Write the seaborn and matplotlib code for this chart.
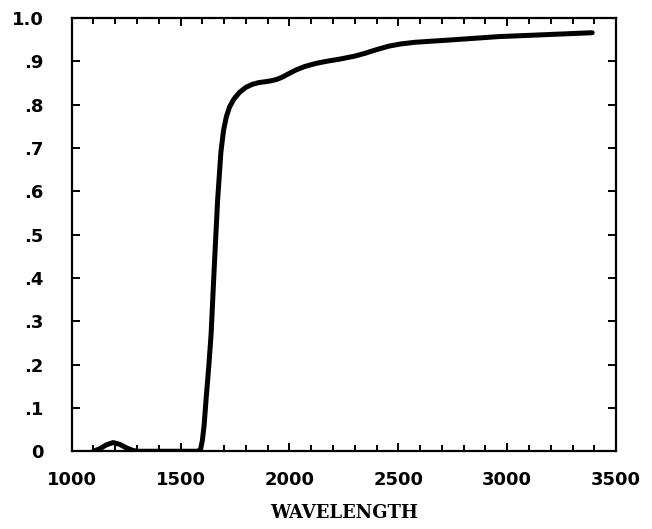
import matplotlib
matplotlib.use("Agg")
import matplotlib.pyplot as plt
import seaborn as sns
import pandas as pd
from matplotlib.ticker import MultipleLocator

# values
wavelength = [1100, 1130, 1160, 1190, 1220, 1250, 1280, 1300, 1400, 1500,
              1580, 1592, 1600, 1608, 1617, 1630, 1640, 1655, 1670, 1685, 1697,
              1710, 1725, 1745, 1770, 1800, 1830, 1860, 1890, 1915, 1940, 1965,
              1995, 2030, 2070, 2120, 2170, 2230, 2300, 2350, 2400, 2456, 2510,
              2578, 2731, 2960, 3200, 3390]
transmission = [0.0, 0.006, 0.015, 0.02, 0.016, 0.008, 0.002, 0.0, 0.0, 0.0,
                0.0, 0.005, 0.025, 0.06, 0.12, 0.2, 0.27, 0.43, 0.58, 0.69, 0.74,
                0.772, 0.795, 0.813, 0.828, 0.84, 0.847, 0.851, 0.853, 0.855, 0.858, 0.863,
                0.871, 0.88, 0.888, 0.895, 0.9, 0.905, 0.912, 0.919, 0.927, 0.935, 0.94,
                0.944, 0.949, 0.957, 0.962, 0.966]

x_ticks = [1000, 1500, 2000, 2500, 3000, 3500]
y_ticks = [0.0, 0.1, 0.2, 0.3, 0.4, 0.5, 0.6, 0.7, 0.8, 0.9, 1.0]
y_labels = ['0', '.1', '.2', '.3', '.4', '.5', '.6', '.7', '.8', '.9', '1.0']

df = pd.DataFrame({'Wavelength': wavelength, 'T': transmission})

sns.set_style("ticks")
plt.rcParams['font.family'] = ['DejaVu Sans']
plt.rcParams['text.color'] = 'black'
plt.rcParams['xtick.color'] = 'black'
plt.rcParams['ytick.color'] = 'black'
plt.rcParams['axes.labelcolor'] = 'black'

fig = plt.figure(figsize=(6.52, 5.29), dpi=100)
ax = fig.add_axes([0.110, 0.147, 0.835, 0.819])

sns.lineplot(data=df, x='Wavelength', y='T', color='black', linewidth=3.6,
             ax=ax, solid_capstyle='round', solid_joinstyle='round')

ax.set_xlim(1000, 3500)
ax.set_ylim(0, 1.0)
ax.set_xticks(x_ticks)
ax.set_xticklabels([str(t) for t in x_ticks], fontsize=13, fontweight='bold')
ax.xaxis.set_minor_locator(MultipleLocator(100))
ax.set_yticks(y_ticks)
ax.set_yticklabels(y_labels, fontsize=13, fontweight='bold')

ax.tick_params(axis='both', which='both', direction='in', top=True, right=True,
               width=1.4, colors='black')
ax.tick_params(axis='x', which='major', length=6, pad=14)
ax.tick_params(axis='x', which='minor', length=4)
ax.tick_params(axis='y', which='major', length=6, pad=20)

for s in ax.spines.values():
    s.set_visible(True)
    s.set_linewidth(1.6)
    s.set_color('black')

ax.set_ylabel('')
ax.set_xlabel('WAVELENGTH', family='DejaVu Serif', fontweight='bold',
              fontsize=13, labelpad=11, color='black')

fig.savefig('out.png', dpi=100)
